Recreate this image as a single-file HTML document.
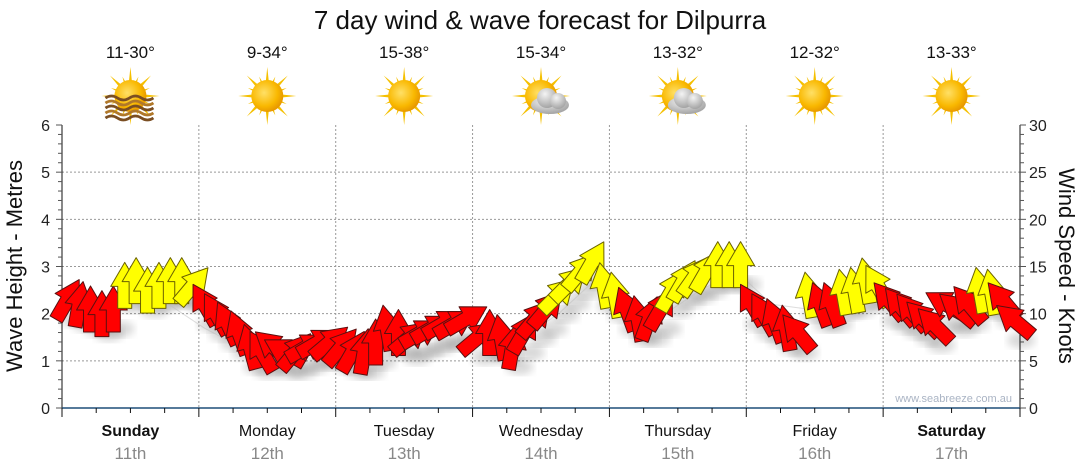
<!DOCTYPE html>
<html><head><meta charset="utf-8"><style>
body{margin:0;background:#fff;}
svg{display:block;font-family:"Liberation Sans",sans-serif;}
</style></head><body>
<svg id="c" width="1080" height="475" viewBox="0 0 1080 475">
<defs>
<radialGradient id="sunG" cx="0.4" cy="0.4" r="0.7"><stop offset="0" stop-color="#ffe066"/><stop offset="0.6" stop-color="#f9b800"/><stop offset="1" stop-color="#e08a00"/></radialGradient>
<radialGradient id="cloudG" cx="0.4" cy="0.3" r="0.8"><stop offset="0" stop-color="#f4f4f4"/><stop offset="1" stop-color="#999"/></radialGradient>
<filter id="blur"><feGaussianBlur stdDeviation="4"/></filter>
</defs>
<text x="540" y="29" text-anchor="middle" font-size="26" fill="#111">7 day wind &amp; wave forecast for Dilpurra</text>
<g id="grid"></g><g id="header"></g><g id="axes"></g><g id="shadows"></g><g id="wave"></g><g id="arrows"></g>
<text x="1012" y="402" text-anchor="end" font-size="11" fill="#aab4c4">www.seabreeze.com.au</text>
<text transform="translate(22,266) rotate(-90)" text-anchor="middle" font-size="22" fill="#111">Wave Height - Metres</text>
<text transform="translate(1059,266) rotate(90)" text-anchor="middle" font-size="22" fill="#111">Wind Speed - Knots</text>
</svg>
<script>
const days=["Sunday","Monday","Tuesday","Wednesday","Thursday","Friday","Saturday"];
const dates=["11th","12th","13th","14th","15th","16th","17th"];
const temps=["11-30°","9-34°","15-38°","15-34°","13-32°","12-32°","13-33°"];
const icons=["haze","sun","sun","cloud","cloud","sun","sun"];
const leftTicks=[0,1,2,3,4,5,6];
const rightTicks=[0,5,10,15,20,25,30];
const windSpeed=[
11.5,11,10.5,10,10.5,13,13.5,12.5,13,13.5,13.5,13,
11,10,9,8,6.5,6,6.5,6,6,6.5,7,7,
6.5,6,6,7,8.5,8,7.5,8,8.5,9,9,9.5,
7.5,8,7.5,6.5,8,9.5,10.5,12,13.2,14.5,15.5,13,
12,10.5,9.5,9.5,10.5,12.5,13.5,14,14.5,15.2,15.2,15.2,
11,10,9.3,8.5,8,12,11,11,12.3,12.5,13.5,13,
11.4,10.8,10.2,9.5,8.8,11,10.5,11,12.5,12.3,11.4,9.3];
const windDir=[
30,10,0,0,0,0,0,0,0,0,0,40,
-30,-30,-25,-20,-15,-30,-50,-60,40,60,60,50,
40,30,10,0,-10,0,50,60,60,60,60,60,
50,0,-10,10,30,40,40,45,45,40,30,-10,
-10,-20,-10,20,30,30,30,35,30,0,0,0,
-30,-30,-20,-10,-40,-10,-20,-20,-10,-10,-10,-30,
-40,-40,-40,-45,-45,-60,-50,-40,-10,-10,-40,-50];
const waveHeight=[2.2,2.3,2.4,2.2,1.7,1.3,1.2,1.3,1.3,1.5,1.6,1.7,1.7,1.5,2.0,2.7,2.2,2.0,2.5,2.9,2.2,2.1,2.3,2.2,2.1,1.9,2.0,1.9];
const NS="http://www.w3.org/2000/svg";
const X0=62,X1=1020,Y0=408,Y1=125,DW=(X1-X0)/7;
const yL=v=>Y0-(Y0-Y1)*v/6, yR=v=>Y0-(Y0-Y1)*v/30;
const xT=t=>X0+DW*t;
function el(tag,attrs,parent,txt){const e=document.createElementNS(NS,tag);for(const k in attrs)e.setAttribute(k,attrs[k]);if(txt!==undefined)e.textContent=txt;parent.appendChild(e);return e;}
const grid=document.getElementById('grid'),axes=document.getElementById('axes'),header=document.getElementById('header');
leftTicks.forEach(v=>{ if(v>0&&v<6){const l=el('line',{x1:X0,x2:X1,y1:yL(v),y2:yL(v),stroke:'#999','stroke-dasharray':'2,2','stroke-width':1},grid);

}
const t=el('text',{x:50,y:yL(v)+6,'text-anchor':'end','font-size':16,fill:'#222'},axes,v);

});
rightTicks.forEach(v=>{const t=el('text',{x:1029,y:yR(v)+6,'font-size':16,fill:'#222'},axes,v);

});
for(let i=1;i<7;i++){const l=el('line',{x1:xT(i),x2:xT(i),y1:Y1,y2:Y0,stroke:'#999','stroke-dasharray':'2,2'},grid);

}
el('line',{x1:X0,x2:X0,y1:Y1,y2:Y0,stroke:'#111'},axes);
el('line',{x1:X1,x2:X1,y1:Y1,y2:Y0,stroke:'#111'},axes);
for(let k=0;k<=30;k++){const y=Y0-(Y0-Y1)*k/30;const L=k%5==0?6:4;
el('line',{x1:X0-L,x2:X0,y1:y,y2:y,stroke:'#555'},axes);
el('line',{x1:X1,x2:X1+L,y1:y,y2:y,stroke:'#555'},axes);}
el('line',{x1:X0,x2:X1,y1:Y0,y2:Y0,stroke:'#1f4e79','stroke-width':1.5},axes);
for(let q=0;q<=28;q++){const x=xT(q/4);el('line',{x1:x,x2:x,y1:Y0,y2:Y0+(q%4==0?9:5),stroke:'#111'},axes);}
days.forEach((d,i)=>{const cx=xT(i+0.5);
const a=el('text',{x:cx,y:436,'text-anchor':'middle','font-size':16,fill:'#111','font-weight':(i==0||i==6)?'bold':'normal'},axes,d);


const b=el('text',{x:cx,y:459,'text-anchor':'middle','font-size':17,fill:'#888'},axes,dates[i]);


const t=el('text',{x:cx,y:58,'text-anchor':'middle','font-size':17,fill:'#111'},header,temps[i]);


const g=el('g',{transform:`translate(${cx},96)`},header);


for(let r=0;r<16;r++){const len=r%2==0?29:21;el('polygon',{points:`-3,0 3,0 0,${-len}`,fill:'#f5c000',transform:`rotate(${r*22.5})`},g);}
el('circle',{r:16,fill:'url(#sunG)'},g);
if(icons[i]=='cloud'){const c=el('g',{transform:'translate(9,5)'},g);
el('ellipse',{cx:0,cy:4,rx:19,ry:9,fill:'url(#cloudG)'},c);el('circle',{cx:-3,cy:-3,r:10,fill:'url(#cloudG)'},c);el('circle',{cx:8,cy:0,r:8,fill:'url(#cloudG)'},c);}
if(icons[i]=='haze'){for(let w=0;w<5;w++){el('path',{d:`M-25,${2+w*5} q6,-4 12,0 t12,0 t12,0 t12,0`,stroke:w%2?'#b0782a':'#7a4e22','stroke-width':2.8,fill:'none'},g);}}
});
const wg=document.getElementById('wave');
const wp=waveHeight.map((v,i)=>`${xT(i*7/(waveHeight.length-1))},${yL(v)}`).join(' ');
const wl=el('polyline',{points:wp,fill:'none',stroke:'#bbb','stroke-width':1,'stroke-opacity':0.5},wg);


const ag=document.getElementById('arrows'),sg=document.getElementById('shadows');
const shape="M-7,23 L-7,1 L-14,1 L0,-23 L14,1 L7,1 L7,23 Z";
windSpeed.forEach((v,i)=>{const x=xT((i+0.5)/12),y=yR(v);
el('ellipse',{cx:x+7,cy:y+20,rx:14,ry:8,fill:'#000','fill-opacity':0.15,filter:'url(#blur)'},sg);
const p=el('path',{d:shape,transform:`translate(${x},${y}) rotate(${windDir[i]})`,fill:v>=12?'#ffff00':'#ff0000',stroke:v>=12?'#6b6200':'#5a1010','stroke-width':1,'stroke-linejoin':'round'},ag);

});
</script>
</body></html>
